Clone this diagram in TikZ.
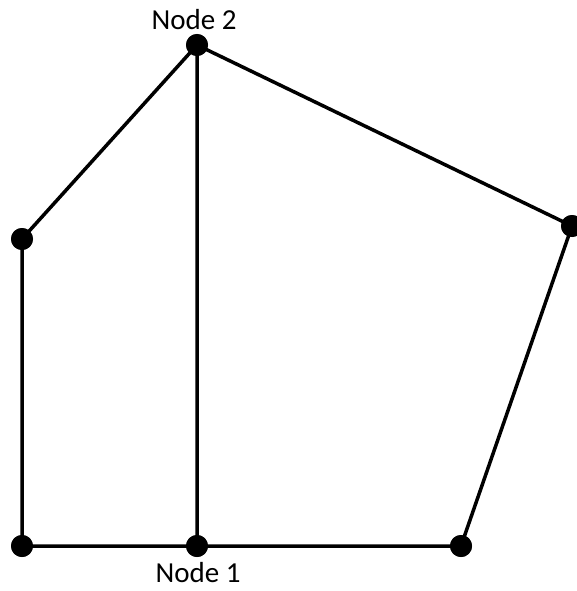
\documentclass[tikz,border=0pt]{standalone}
\usepackage{fontspec}
\setmainfont{Carlito}
\begin{document}
\begin{tikzpicture}[x=1pt,y=-1pt,
  dot/.style={circle,fill=black,inner sep=0pt,minimum size=22pt},
  edge/.style={line width=3.5pt},
  lbl/.style={font=\fontsize{29}{34}\selectfont,inner sep=0pt}]
\useasboundingbox (0,0) rectangle (576,591);
\node[dot] (n2) at (197,45) {};
\node[dot] (a) at (22,239) {};
\node[dot] (r) at (572,226) {};
\node[dot] (bl) at (22,546) {};
\node[dot] (n1) at (197,546) {};
\node[dot] (br) at (461,546) {};
\draw[edge] (n2.center) -- (a.center) -- (bl.center) -- (n1.center) -- (br.center) -- (r.center) -- (n2.center) -- (n1.center);
\node[dot] at (n2) {};
\node[dot] at (a) {};
\node[dot] at (r) {};
\node[dot] at (bl) {};
\node[dot] at (n1) {};
\node[dot] at (br) {};
\node[lbl] (l2) at (194,20) {Node 2};
\node[lbl] (l1) at (198,573) {Node 1};
\end{tikzpicture}
\end{document}
